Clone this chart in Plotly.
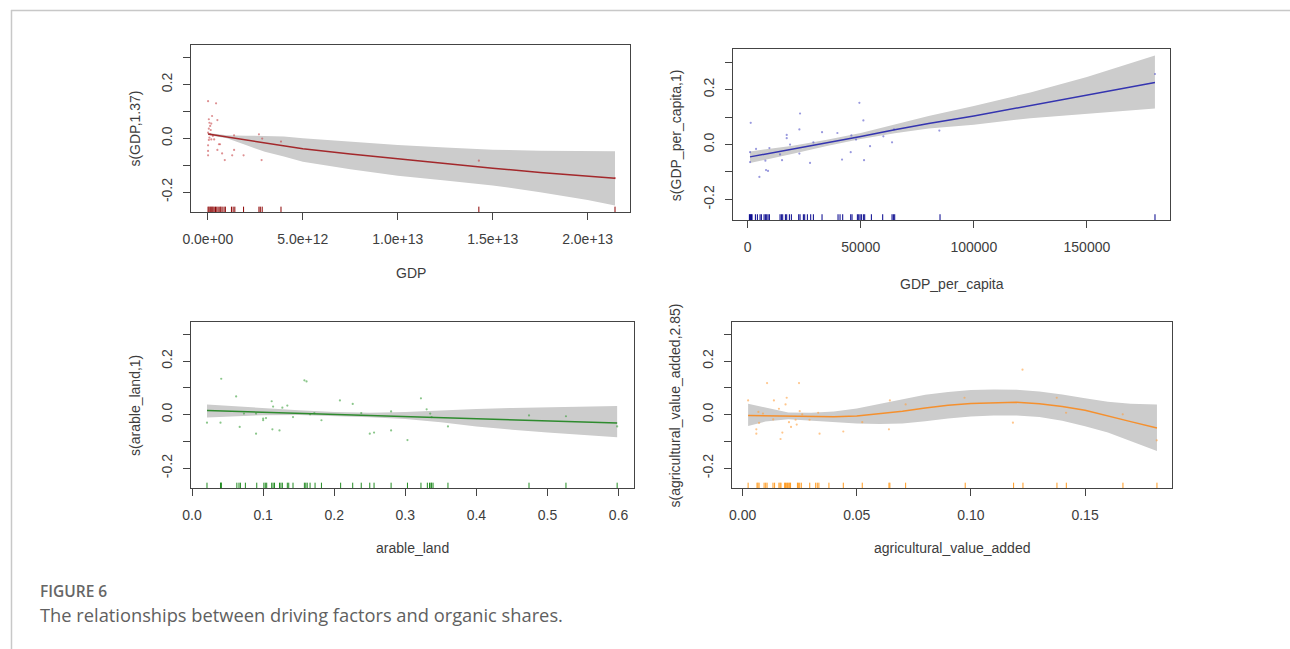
import plotly.graph_objects as go

W, H = 1290, 649

# ---------------- data ----------------
# Panel 1: GDP (values in units of 1e12 for readability, scaled below)
gdp_rug_e12 = [0.01, 0.06, 0.12, 0.17, 0.22, 0.27, 0.33, 0.40, 0.47, 0.54, 0.63, 0.68, 0.75,
               0.85, 0.92, 1.24, 1.33, 1.42, 1.88, 2.69, 2.76, 2.86, 3.85, 14.27, 21.44]
gdp_pts_x_e12 = [0.01, 0.43, 0.22, 0.50, 0.05, 0.08, 0.18, 0.12, 0.05, 0.15, 0.01, 0.12, 0.26,
                 0.08, 0.18, 0.05, 0.33, 0.64, 0.58, 0.01, 0.50, 0.01, 0.75, 1.38, 0.01, 1.28,
                 0.89, 1.88, 1.38, 2.69, 2.86, 2.83, 3.85, 14.27, 21.44]
gdp_pts_y = [0.138, 0.130, 0.083, 0.068, 0.071, 0.058, 0.055, 0.046, 0.036, 0.031, 0.021, 0.015,
             0.009, 0.003, -0.004, -0.006, -0.004, -0.022, -0.022, -0.026, -0.043, -0.047, -0.056,
             -0.043, -0.063, -0.063, -0.081, -0.063, 0.011, 0.015, -0.001, -0.081, -0.012,
             -0.083, -0.148]
gdp_fit_x_e12 = [0.01, 1, 2, 3, 4, 5, 7.5, 10, 12.5, 15, 17.5, 20, 21.44]
gdp_fit = [0.016, 0.005, -0.006, -0.018, -0.029, -0.039, -0.058, -0.076, -0.094, -0.111, -0.127, -0.140, -0.148]
gdp_up = [0.020, 0.011, 0.010, 0.009, 0.007, 0.000, -0.013, -0.025, -0.034, -0.042, -0.046, -0.048, -0.048]
gdp_lo = [0.012, 0.000, -0.025, -0.050, -0.068, -0.087, -0.115, -0.139, -0.157, -0.175, -0.200, -0.229, -0.250]

# Panel 2: GDP per capita
pc_rug = [737, 1032, 1327, 1621, 1916, 3390, 4275, 5454, 6043, 7223, 7812, 8402, 8991, 9581,
          14298, 14887, 15477, 16656, 17246, 18425, 19309, 22552, 23142, 24616, 25205, 26385,
          27859, 29038, 32870, 39945, 40830, 42009, 45547, 46137, 48495, 49085, 49674, 50264,
          51148, 51738, 54686, 59698, 63824, 64414, 65004, 85050, 180120]
pc_pts_x = [1327, 3685, 1032, 1032, 5159, 7812, 8107, 8991, 9581, 14298, 15182, 17246, 17246,
            18720, 22847, 23142, 22847, 27564, 29038, 32870, 39651, 41714, 45547, 45841, 47905,
            49379, 51148, 51443, 54096, 59992, 63824, 64709, 84755, 180120]
pc_pts_y = [0.079, -0.016, -0.028, -0.064, -0.118, -0.059, -0.093, -0.096, -0.013, -0.036,
            -0.057, 0.035, 0.023, 0.000, 0.055, 0.113, -0.033, -0.067, 0.008, 0.045, 0.042,
            -0.055, -0.028, 0.033, 0.018, 0.152, 0.088, -0.057, -0.006, 0.030, 0.008, 0.055,
            0.051, 0.257]
pc_fit_x = [1000, 20000, 35000, 50000, 65000, 80000, 100000, 125000, 150000, 180100]
pc_fit = [-0.045, -0.017, 0.006, 0.029, 0.054, 0.077, 0.104, 0.142, 0.179, 0.226]
pc_up = [-0.025, -0.004, 0.017, 0.042, 0.073, 0.104, 0.140, 0.190, 0.246, 0.324]
pc_lo = [-0.067, -0.034, -0.005, 0.020, 0.041, 0.058, 0.072, 0.096, 0.113, 0.131]

# Panel 3: arable land
ar_rug = [0.021, 0.040, 0.041, 0.041, 0.063, 0.066, 0.068, 0.075, 0.091, 0.101, 0.103, 0.105,
          0.112, 0.114, 0.116, 0.123, 0.125, 0.127, 0.134, 0.136, 0.142, 0.158, 0.160, 0.162,
          0.166, 0.173, 0.182, 0.209, 0.226, 0.238, 0.250, 0.256, 0.280, 0.303, 0.322, 0.331,
          0.334, 0.336, 0.337, 0.339, 0.360, 0.474, 0.526, 0.598]
ar_pts_x = [0.021, 0.041, 0.040, 0.062, 0.067, 0.073, 0.090, 0.090, 0.100, 0.100, 0.104, 0.112,
            0.114, 0.113, 0.123, 0.127, 0.134, 0.142, 0.158, 0.161, 0.166, 0.172, 0.182, 0.208,
            0.226, 0.238, 0.250, 0.256, 0.280, 0.280, 0.303, 0.322, 0.330, 0.335, 0.337, 0.360,
            0.474, 0.526, 0.598]
ar_pts_y = [-0.030, 0.134, -0.030, 0.068, -0.046, 0.004, 0.004, -0.071, -0.015, -0.021, -0.013,
            0.050, 0.030, -0.055, -0.059, 0.026, 0.034, -0.009, 0.128, 0.124, 0.001, 0.006,
            -0.021, 0.053, 0.040, 0.006, -0.071, -0.067, 0.012, -0.059, -0.095, 0.061, 0.020,
            0.004, -0.009, -0.044, -0.003, -0.006, -0.044]
ar_fit_x = [0.021, 0.06, 0.10, 0.15, 0.20, 0.25, 0.30, 0.35, 0.40, 0.45, 0.50, 0.55, 0.598]
ar_fit = [0.015, 0.012, 0.009, 0.005, 0.001, -0.003, -0.007, -0.011, -0.015, -0.019, -0.023, -0.027, -0.031]
ar_up = [0.038, 0.031, 0.025, 0.016, 0.010, 0.007, 0.010, 0.016, 0.021, 0.025, 0.028, 0.030, 0.032]
ar_lo = [-0.011, -0.006, -0.002, -0.001, -0.005, -0.010, -0.016, -0.028, -0.044, -0.056, -0.067, -0.076, -0.084]

# Panel 4: agricultural value added
ag_rug = [0.0024, 0.0063, 0.0067, 0.0072, 0.0094, 0.0101, 0.0107, 0.0133, 0.0140, 0.0159, 0.0164,
          0.0168, 0.0184, 0.0188, 0.0193, 0.0197, 0.0202, 0.0206, 0.0210, 0.0240, 0.0244, 0.0250,
          0.0257, 0.0294, 0.0320, 0.0327, 0.0334, 0.0378, 0.0441, 0.0524, 0.0641, 0.0645, 0.0714,
          0.0975, 0.1187, 0.1228, 0.1377, 0.1418, 0.1666, 0.1815]
ag_pts_x = [0.0024, 0.0069, 0.0072, 0.0060, 0.0060, 0.0089, 0.0107, 0.0137, 0.0134, 0.0159,
            0.0174, 0.0166, 0.0188, 0.0193, 0.0203, 0.0212, 0.0232, 0.0237, 0.0247, 0.0250,
            0.0261, 0.0293, 0.0331, 0.0337, 0.0441, 0.0524, 0.0641, 0.0645, 0.0714, 0.0972,
            0.1226, 0.1184, 0.1376, 0.1417, 0.1665, 0.1814]
ag_pts_y = [0.053, 0.010, -0.031, -0.055, -0.071, 0.004, 0.118, 0.053, -0.018, 0.022, -0.067,
            -0.091, 0.038, 0.063, -0.028, -0.046, -0.019, -0.037, 0.118, 0.013, 0.001, -0.019,
            0.007, -0.071, -0.063, -0.028, -0.055, 0.053, 0.038, 0.063, 0.168, -0.030, 0.063,
            0.007, 0.001, -0.096]
ag_fit_x = [0.0024, 0.01, 0.02, 0.03, 0.04, 0.05, 0.06, 0.07, 0.08, 0.09, 0.10, 0.11, 0.12,
            0.13, 0.14, 0.15, 0.16, 0.17, 0.1815]
ag_fit = [-0.003, -0.004, -0.007, -0.008, -0.008, -0.005, 0.003, 0.013, 0.025, 0.035, 0.042,
          0.045, 0.046, 0.041, 0.030, 0.016, -0.004, -0.026, -0.050]
ag_up = [0.041, 0.027, 0.008, 0.007, 0.012, 0.023, 0.040, 0.058, 0.074, 0.085, 0.092, 0.094,
         0.093, 0.086, 0.075, 0.061, 0.048, 0.041, 0.038]
ag_lo = [-0.042, -0.026, -0.017, -0.022, -0.028, -0.033, -0.035, -0.033, -0.025, -0.014, -0.007,
         -0.003, -0.003, -0.009, -0.023, -0.043, -0.067, -0.098, -0.136]

# ---------------- layout helpers ----------------
YR = [-0.275, 0.347]
RUG_H = 0.021  # rug tick length in y units (about 6 px)
FONT = "Liberation Sans, Arial, sans-serif"
TXT = "#3d3d3d"

# the photographed page shows the drawing 8 px in and 1282 px wide
OFF_X, EFF_W = 8.0, 1282.0


def px_x(p):
    return (p - OFF_X) / EFF_W


def px_y(p):
    return 1 - p / H


panels = [
    dict(name="GDP", ytitle="s(GDP,1.37)", scale=1e12,
         rug=gdp_rug_e12, px=gdp_pts_x_e12, py=gdp_pts_y,
         fx=gdp_fit_x_e12, fy=gdp_fit, up=gdp_up, lo=gdp_lo,
         line="#A3282B", rugc="#8B0000", ptc="#C8484B",
         dom=(190.5, 629.3, 45.0, 212.3), xr=[-0.87e12, 2.222e13],
         tv=[0, 5e12, 1e13, 1.5e13, 2e13],
         tt=["0.0e+00", "5.0e+12", "1.0e+13", "1.5e+13", "2.0e+13"],
         ytx=134, xty=273),
    dict(name="GDP_per_capita", ytitle="s(GDP_per_capita,1)", scale=1,
         rug=pc_rug, px=pc_pts_x, py=pc_pts_y,
         fx=pc_fit_x, fy=pc_fit, up=pc_up, lo=pc_lo,
         line="#3434B0", rugc="#00008B", ptc="#5555C8",
         dom=(732.7, 1170.0, 49.3, 220.0), xr=[-6450, 186800],
         tv=[0, 50000, 100000, 150000],
         tt=["0", "50000", "100000", "150000"],
         ytx=675, xty=284),
    dict(name="arable_land", ytitle="s(arable_land,1)", scale=1,
         rug=ar_rug, px=ar_pts_x, py=ar_pts_y,
         fx=ar_fit_x, fy=ar_fit, up=ar_up, lo=ar_lo,
         line="#2E8B2E", rugc="#228B22", ptc="#3CA03C",
         dom=(190.5, 633.7, 321.7, 488.3), xr=[-0.001, 0.622],
         tv=[0, 0.1, 0.2, 0.3, 0.4, 0.5, 0.6],
         tt=["0.0", "0.1", "0.2", "0.3", "0.4", "0.5", "0.6"],
         ytx=134, xty=548),
    dict(name="agricultural_value_added", ytitle="s(agricultural_value_added,2.85)", scale=1,
         rug=ag_rug, px=ag_pts_x, py=ag_pts_y,
         fx=ag_fit_x, fy=ag_fit, up=ag_up, lo=ag_lo,
         line="#F5902E", rugc="#FF9A1F", ptc="#FFA040",
         dom=(731.7, 1171.7, 321.7, 488.3), xr=[-0.0046, 0.188],
         tv=[0, 0.05, 0.10, 0.15],
         tt=["0.00", "0.05", "0.10", "0.15"],
         ytx=675, xty=548),
]

fig = go.Figure()
annotations = []
layout = {}

for i, p in enumerate(panels, start=1):
    xa = "x" if i == 1 else f"x{i}"
    ya = "y" if i == 1 else f"y{i}"
    s = p["scale"]
    fx = [v * s for v in p["fx"]]
    # confidence band
    fig.add_trace(go.Scatter(
        x=fx + fx[::-1], y=p["up"] + p["lo"][::-1], fill="toself",
        fillcolor="#CCCCCC", line=dict(width=0), mode="lines",
        hoverinfo="skip", showlegend=False, xaxis=xa, yaxis=ya))
    # partial residuals
    fig.add_trace(go.Scatter(
        x=[v * s for v in p["px"]], y=p["py"], mode="markers",
        marker=dict(size=2.2, color=p["ptc"], opacity=0.6, line=dict(width=0)),
        showlegend=False, xaxis=xa, yaxis=ya))
    # smooth
    fig.add_trace(go.Scatter(
        x=fx, y=p["fy"], mode="lines", line=dict(color=p["line"], width=1.5),
        showlegend=False, xaxis=xa, yaxis=ya))
    # rug
    rx, ry = [], []
    for v in p["rug"]:
        rx += [v * s, v * s, None]
        ry += [YR[0], YR[0] + RUG_H, None]
    fig.add_trace(go.Scatter(
        x=rx, y=ry, mode="lines", line=dict(color=p["rugc"], width=1),
        showlegend=False, xaxis=xa, yaxis=ya, hoverinfo="skip"))

    x0, x1, y0, y1 = p["dom"]
    common = dict(showline=True, linecolor="#444444", linewidth=1, mirror=True,
                  ticks="outside", ticklen=7, tickwidth=1, tickcolor="#444444",
                  showgrid=False, zeroline=False,
                  tickfont=dict(family=FONT, size=14, color=TXT))
    layout["xaxis" if i == 1 else f"xaxis{i}"] = dict(
        domain=[px_x(x0), px_x(x1)], range=p["xr"], anchor=ya,
        tickmode="array", tickvals=p["tv"], ticktext=p["tt"],
        ticklabelstandoff=7, **common)
    layout["yaxis" if i == 1 else f"yaxis{i}"] = dict(
        domain=[px_y(y1), px_y(y0)], range=YR, anchor=xa,
        tickmode="array", tickvals=[-0.2, -0.1, 0.0, 0.1, 0.2, 0.3],
        ticktext=["-0.2", "", "0.0", "", "0.2", ""], tickangle=-90,
        ticklabelstandoff=6, **common)
    annotations.append(dict(
        text=p["ytitle"], x=px_x(p["ytx"]), y=px_y((y0 + y1) / 2), xref="paper", yref="paper",
        textangle=-90, showarrow=False, xanchor="center", yanchor="middle",
        font=dict(family=FONT, size=14, color=TXT)))
    annotations.append(dict(
        text=p["name"], x=px_x((x0 + x1) / 2), y=px_y(p["xty"]), xref="paper", yref="paper",
        showarrow=False, xanchor="center", yanchor="middle",
        font=dict(family=FONT, size=14, color=TXT)))

# caption
annotations.append(dict(
    text="FIGURE 6", x=px_x(37), y=px_y(591), xref="paper", yref="paper",
    showarrow=False, xanchor="left", yanchor="middle",
    font=dict(family="Open Sans, sans-serif", size=15.5, color="#666666", weight=600)))
annotations.append(dict(
    text="The relationships between driving factors and organic shares.",
    x=px_x(37), y=px_y(614), xref="paper", yref="paper",
    showarrow=False, xanchor="left", yanchor="middle",
    font=dict(family="Open Sans, sans-serif", size=18.3, color="#606060", weight=400)))

shapes = [
    dict(type="line", xref="paper", yref="paper", x0=px_x(10), x1=1, y0=px_y(10.5), y1=px_y(10.5),
         line=dict(color="#C8C8C8", width=1.5)),
    dict(type="line", xref="paper", yref="paper", x0=px_x(10.5), x1=px_x(10.5), y0=0, y1=px_y(10),
         line=dict(color="#C8C8C8", width=1.5)),
]

fig.update_layout(
    width=W, height=H, margin=dict(l=0, r=0, t=0, b=0),
    paper_bgcolor="white", plot_bgcolor="white",
    annotations=annotations, shapes=shapes, **layout)

fig.write_html(
    "out.html",
    config={"displayModeBar": False},
    post_script=(
        "document.documentElement.style.margin='0';"
        "document.body.style.margin='0';document.body.style.padding='0';"
        "document.body.style.overflow='hidden';"
        "var d=document.getElementById('{plot_id}');"
        "d.style.position='fixed';d.style.left='0px';d.style.top='0px';"
    ),
)
